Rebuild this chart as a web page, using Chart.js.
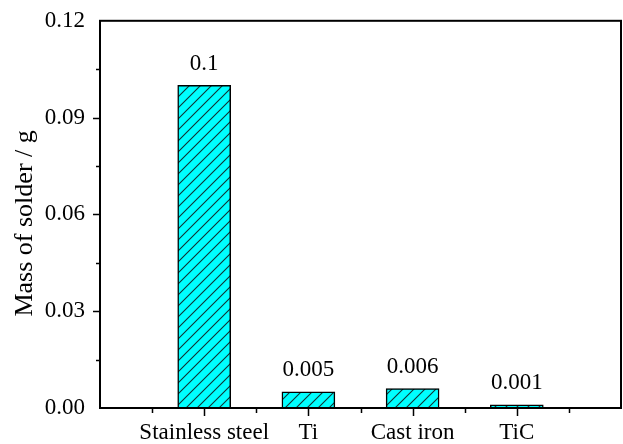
<!DOCTYPE html>
<html>
<head>
<meta charset="utf-8">
<script src="https://cdn.jsdelivr.net/npm/chart.js@4/dist/chart.umd.min.js"></script>
<style>
	html, body { margin: 0; padding: 0; background: #fff; }
	#wrap { width: 623px; height: 444px; }
</style>
</head>
<body>
<div id="wrap"><canvas id="chart" width="623" height="444"></canvas></div>
<script>
"use strict";

// data
const categories	= ["Stainless steel", "Ti", "Cast iron", "TiC"]
const positions		= [1, 2, 3, 4]
const values		= [0.1, 0.005, 0.006, 0.001]
const value_labels	= ["0.1", "0.005", "0.006", "0.001"]
const y_ticks		= [0, 0.03, 0.06, 0.09, 0.12]
const y_title		= "Mass of solder / g"

const FONT = "Liberation Serif, Times New Roman, serif"

// hatch pattern "/" on cyan
function make_hatch() {
	const size = 11
	const c = document.createElement("canvas")
	c.width = size
	c.height = size
	const g = c.getContext("2d")
	g.fillStyle = "#00ffff"
	g.fillRect(0, 0, size, size)
	g.strokeStyle = "#113333"
	g.lineWidth = 1.1
	g.beginPath()
	g.moveTo(-1, size + 1); g.lineTo(size + 1, -1)
	g.moveTo(-1, 1); g.lineTo(1, -1)
	g.moveTo(size - 1, size + 1); g.lineTo(size + 1, size - 1)
	g.stroke()
	return g.createPattern(c, "repeat")
}

// frame, ticks (major + minor), value labels, y title
const decor = {
	id: "decor",
	afterDraw(chart) {
		const ctx = chart.ctx
		const a = chart.chartArea
		const xs = chart.scales.x
		const ys = chart.scales.y
		ctx.save()
		ctx.strokeStyle = "#000"
		ctx.lineWidth = 2
		ctx.strokeRect(a.left, a.top, a.right - a.left, a.bottom - a.top)

		ctx.lineWidth = 1.5
		ctx.beginPath()
		// x ticks
		for (let v = 0.5; v < 5; v += 0.5) {
			const px = Math.round(xs.getPixelForValue(v)) + 0.5
			const len = Number.isInteger(v) ? 8 : 5
			ctx.moveTo(px, a.bottom)
			ctx.lineTo(px, a.bottom + len)
		}
		// y ticks
		for (let v = 0.015; v < 0.12; v += 0.015) {
			const py = Math.round(ys.getPixelForValue(v)) + 0.5
			const major = Math.abs(v / 0.03 - Math.round(v / 0.03)) < 1e-6
			ctx.moveTo(a.left, py)
			ctx.lineTo(a.left - (major ? 7 : 4), py)
		}
		ctx.stroke()

		// value labels
		ctx.fillStyle = "#000"
		ctx.font = "23px " + FONT
		ctx.textAlign = "center"
		ctx.textBaseline = "bottom"
		values.forEach((v, i) => {
			const px = xs.getPixelForValue(positions[i])
			const py = ys.getPixelForValue(v)
			ctx.fillText(value_labels[i], px, py - 10)
		})

		// y title
		ctx.translate(25, (a.top + a.bottom) / 2 + 9)
		ctx.rotate(-Math.PI / 2)
		ctx.font = "26px " + FONT
		ctx.textBaseline = "middle"
		ctx.fillText(y_title, 0, 0)
		ctx.restore()
	}
}

const chart = new Chart(document.getElementById("chart"), {
	type: "bar",
	data: {
		datasets: [{
			data: positions.map((p, i) => ({ x: p, y: values[i] })),
			backgroundColor: make_hatch(),
			borderColor: "#000",
			borderWidth: 1.5,
			borderSkipped: "bottom",
			barThickness: 53,
		}]
	},
	options: {
		responsive: false,
		animation: false,
		devicePixelRatio: 1,
		layout: { padding: { top: 16, right: 2, left: 0, bottom: 0 } },
		plugins: {
			legend: { display: false },
			tooltip: { enabled: false },
		},
		scales: {
			x: {
				type: "linear",
				min: 0,
				max: 5,
				offset: false,
				grid: { display: false, offset: false },
				border: { display: false },
				afterFit: (s) => { s.height = 36 },
				afterBuildTicks: (s) => { s.ticks = positions.map((p) => ({ value: p })) },
				ticks: {
					padding: 3,
					maxRotation: 0,
					autoSkip: false,
					color: "#000",
					font: { family: FONT, size: 23 },
					callback: (v) => categories[positions.indexOf(v)] || "",
				},
			},
			y: {
				min: 0,
				max: 0.12,
				grid: { display: false },
				border: { display: false },
				afterFit: (s) => { s.width = 100 },
				afterBuildTicks: (s) => { s.ticks = y_ticks.map((v) => ({ value: v })) },
				ticks: {
					padding: 7,
					color: "#000",
					font: { family: FONT, size: 23 },
					callback: (v) => v.toFixed(2),
				},
			},
		},
	},
	plugins: [decor],
})
</script>
</body>
</html>
